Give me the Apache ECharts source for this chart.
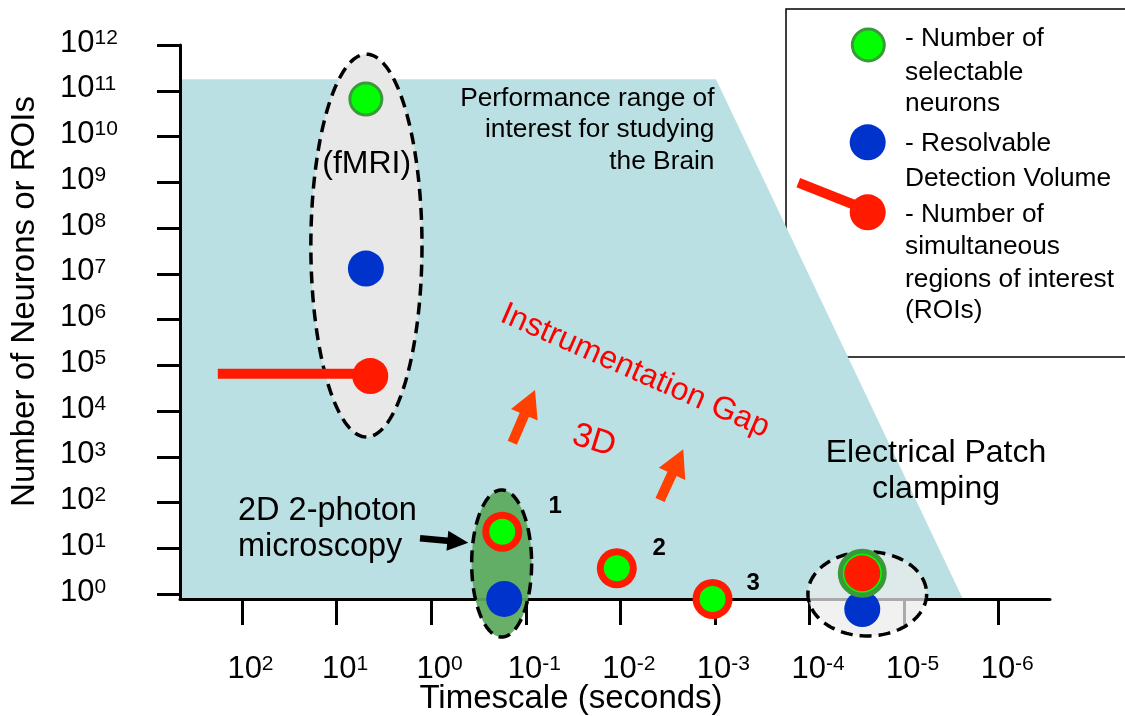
<!DOCTYPE html>
<html>
<head>
<meta charset="utf-8">
<script src="https://cdn.jsdelivr.net/npm/echarts@6/dist/echarts.min.js"></script>
<style>html,body{margin:0;padding:0;background:#fff}#c{width:1125px;height:716px}</style>
</head>
<body>
<div id="c"></div>
<script>
// ---- data (axis values) ----
const xTicks = [1e2, 1e1, 1e0, 1e-1, 1e-2, 1e-3, 1e-4, 1e-5, 1e-6];
const yTicks = [1e0, 1e1, 1e2, 1e3, 1e4, 1e5, 1e6, 1e7, 1e8, 1e9, 1e10, 1e11, 1e12];
const xRange = [2.87e-7, 452];
const yRange = [0.778, 1e12];

// [timescale (s), count]
const selectable = [[4.9, 6.6e10], [0.177, 23], [0.0109, 3.65], [1.06e-3, 0.78], [2.77e-5, 2.84]];
const resolvable = [[4.9, 1.3e7], [0.169, 0.78], [2.77e-5, 0.47]];
const rois = [[4.4, 5.8e4], [0.177, 23], [0.0109, 3.65], [1.06e-3, 0.78], [2.77e-5, 2.84]];
const roiTail = [[180, 6.5e4], [4.4, 6.5e4]];
const pointLabels = ['1', '2', '3'];
const pointLabelAt = [[0.049, 81], [0.00388, 10], [3.94e-4, 1.71]];

// performance range polygon (value space)
const brainRange = [[452, 1.78e11], [9.75e-4, 1.78e11], [2.39e-6, 0.778], [452, 0.778]];
// technique groups: [x left, x right, y bottom, y top]
const groups = [
  [18.7, 1.25, 2.7e3, 6.3e11],      // fMRI
  [0.373, 0.0867, 0.115, 188],      // 2D 2-photon
  [1.04e-4, 5.78e-6, 0.121, 8.4]    // patch clamping
];

// ---- styles ----
const FONT = 'Liberation Sans, Arial, Helvetica, sans-serif';
const RED = '#ff1a00', GREEN = '#00ff00', DKGREEN = '#3a9a3a', BLUE = '#0033cc';
const groupFill = ['#e8e8e8', 'rgba(92,170,92,0.93)', 'rgba(236,236,236,0.72)'];
const selKind = ['bordered', 'inner', 'inner', 'inner', 'halo'];
const roiSize = [36, 40, 40, 40, 36];

function exp10(v) { return Math.round(Math.log10(v)); }
function tickLabel(v) { return '{b|10}{s|' + exp10(v) + '}'; }

function arrowPts(t, h, sw, hw, hl) {
  const dx = h[0] - t[0], dy = h[1] - t[1], L = Math.hypot(dx, dy);
  const ux = dx / L, uy = dy / L, nx = -uy, ny = ux;
  const bx = h[0] - ux * hl, by = h[1] - uy * hl;
  return [
    [t[0] + nx * sw / 2, t[1] + ny * sw / 2], [bx + nx * sw / 2, by + ny * sw / 2],
    [bx + nx * hw / 2, by + ny * hw / 2], h, [bx - nx * hw / 2, by - ny * hw / 2],
    [bx - nx * sw / 2, by - ny * sw / 2], [t[0] - nx * sw / 2, t[1] - ny * sw / 2]
  ];
}

function txt(text, x, y, size, opts) {
  return Object.assign({
    type: 'text', x: x, y: y, z: 50, silent: true,
    style: Object.assign({
      text: text, fontSize: size, fontFamily: FONT, fill: '#000',
      align: 'left', verticalAlign: 'middle'
    }, (opts && opts.style) || {})
  }, (opts && opts.el) || {});
}

const chart = echarts.init(document.getElementById('c'), null, { renderer: 'canvas' });

const axisCommon = {
  type: 'log', logBase: 10, z: 3,
  splitLine: { show: false }, minorTick: { show: false },
  axisLine: { onZero: false, lineStyle: { color: '#000', width: 3 } },
  nameMoveOverlap: false
};
const labelRich = {
  b: { fontSize: 31, fontFamily: FONT, color: '#000', lineHeight: 31 },
  s: { fontSize: 21, fontFamily: FONT, color: '#000', lineHeight: 23, verticalAlign: 'top' }
};

const option = {
  animation: false,
  backgroundColor: '#fff',
  grid: { left: 180, right: 75, top: 45, bottom: 117, outerBoundsMode: 'none', containLabel: false },
  xAxis: Object.assign({}, axisCommon, {
    inverse: true, min: xRange[0], max: xRange[1],
    name: 'Timescale (seconds)', nameLocation: 'middle', nameGap: 83,
    nameTextStyle: { fontSize: 33, fontFamily: FONT, color: '#000', padding: [0, 88, 0, 0] },
    axisTick: { customValues: xTicks, length: 26, lineStyle: { color: '#000', width: 3 } },
    axisLabel: {
      customValues: xTicks, margin: 55, formatter: tickLabel, padding: [0, 0, 0, 17], rich: labelRich
    }
  }),
  yAxis: Object.assign({}, axisCommon, {
    min: yRange[0], max: yRange[1],
    name: 'Number of Neurons or ROIs', nameLocation: 'middle', nameGap: 139,
    nameTextStyle: { fontSize: 33, fontFamily: FONT, color: '#000', padding: [0, 0, 0, 41] },
    axisTick: { customValues: yTicks, length: 23, lineStyle: { color: '#000', width: 3 } },
    axisLabel: {
      customValues: yTicks, margin: 120, align: 'left', formatter: tickLabel, padding: [0, 0, 4, 0], rich: labelRich
    }
  }),
  series: [
    {
      type: 'custom', name: 'Performance range of interest', z: 1, silent: true, clip: false,
      data: [brainRange[0]],
      renderItem: function (p, api) {
        return { type: 'polygon', shape: { points: brainRange.map(v => api.coord(v)) }, style: { fill: '#bae0e3' } };
      }
    },
    {
      type: 'custom', name: 'Techniques', z: 4, silent: true, clip: false,
      data: groups.map(g => [g[0], g[3]]),
      renderItem: function (p, api) {
        const g = groups[p.dataIndex];
        const a = api.coord([g[0], g[3]]), b = api.coord([g[1], g[2]]);
        const cx = (a[0] + b[0]) / 2, cy = (a[1] + b[1]) / 2;
        const rx = Math.abs(b[0] - a[0]) / 2, ry = Math.abs(b[1] - a[1]) / 2;
        const pts = [];
        for (let i = 0; i < 160; i++) {
          const t = i / 160 * 2 * Math.PI;
          pts.push([cx + rx * Math.cos(t), cy + ry * Math.sin(t)]);
        }
        return {
          type: 'polygon', shape: { points: pts },
          style: { fill: groupFill[p.dataIndex], stroke: '#000', lineWidth: 3.5, lineDash: [12, 7] }
        };
      }
    },
    {
      type: 'line', name: 'ROI tail', z: 5, silent: true, clip: false, data: roiTail,
      symbol: 'none', lineStyle: { color: RED, width: 10, cap: 'butt' }
    },
    {
      type: 'scatter', name: 'Resolvable Detection Volume', z: 6, silent: true, clip: false,
      data: resolvable, symbol: 'circle', symbolSize: 36, itemStyle: { color: BLUE, opacity: 1 }
    },
    {
      type: 'scatter', name: 'Selectable (halo)', z: 7, silent: true, clip: false,
      data: selectable.filter((d, i) => selKind[i] === 'halo'), symbol: 'circle', symbolSize: 44,
      itemStyle: { color: GREEN, borderColor: DKGREEN, borderWidth: 5, opacity: 1 }
    },
    {
      type: 'scatter', name: 'Number of simultaneous regions of interest', z: 8, silent: true, clip: false,
      data: rois.map((d, i) => ({ value: d, symbolSize: roiSize[i] })), symbol: 'circle',
      itemStyle: { color: RED, opacity: 1 }
    },
    {
      type: 'scatter', name: 'Number of selectable neurons', z: 9, silent: true, clip: false, symbol: 'circle',
      data: selectable.map((d, i) => ({ d: d, k: selKind[i] })).filter(o => o.k !== 'halo').map(o => (
        o.k === 'bordered'
          ? { value: o.d, symbolSize: 32, itemStyle: { color: GREEN, borderColor: DKGREEN, borderWidth: 3 } }
          : { value: o.d, symbolSize: 26, itemStyle: { color: GREEN } }
      )),
      itemStyle: { opacity: 1 }
    },
    {
      type: 'custom', name: 'Point labels', z: 10, silent: true, clip: false,
      data: pointLabelAt,
      renderItem: function (p, api) {
        const c = api.coord(pointLabelAt[p.dataIndex]);
        return {
          type: 'text', x: c[0], y: c[1],
          style: { text: pointLabels[p.dataIndex], fontSize: 24, fontWeight: 'bold', fontFamily: FONT, fill: '#000', align: 'center', verticalAlign: 'middle' }
        };
      }
    }
  ],
  graphic: [
    // legend box
    { type: 'rect', z: 0, silent: true, shape: { x: 786, y: 9, width: 360, height: 348 }, style: { fill: 'none', stroke: '#000', lineWidth: 1.5 } },
    { type: 'circle', z: 50, silent: true, shape: { cx: 868.3, cy: 45, r: 16 }, style: { fill: GREEN, stroke: DKGREEN, lineWidth: 3 } },
    { type: 'circle', z: 50, silent: true, shape: { cx: 867.7, cy: 142.3, r: 18 }, style: { fill: BLUE } },
    { type: 'line', z: 50, silent: true, shape: { x1: 798.3, y1: 182.7, x2: 863.3, y2: 208.3 }, style: { stroke: RED, lineWidth: 10 } },
    { type: 'circle', z: 50, silent: true, shape: { cx: 867.7, cy: 212.3, r: 18 }, style: { fill: RED } },
    txt('- Number of', 905, 38.9, 26.3),
    txt('selectable', 905, 72.7, 26.3),
    txt('neurons', 905, 104.2, 26.3),
    txt('- Resolvable', 905, 143.9, 26.3),
    txt('Detection Volume', 905, 178.9, 26.3),
    txt('- Number of', 905, 214.9, 26.3),
    txt('simultaneous', 905, 247.2, 26.3),
    txt('regions of interest', 905, 279.5, 26.3),
    txt('(ROIs)', 905, 310.5, 26.3),
    // annotations
    txt('Performance range of\ninterest for studying\nthe Brain', 714.5, 83, 26.3, { style: { align: 'right', verticalAlign: 'top', lineHeight: 31.3 } }),
    txt('(fMRI)', 366.7, 163.7, 32, { style: { align: 'center' } }),
    txt('2D 2-photon\nmicroscopy', 238, 493, 32.5, { style: { verticalAlign: 'top', lineHeight: 36.3 } }),
    txt('Electrical Patch\nclamping', 936, 434.5, 32, { style: { align: 'center', verticalAlign: 'top', lineHeight: 36.7 } }),
    txt('Instrumentation Gap', 635, 371, 32, { style: { align: 'center', fill: '#ff0000' }, el: { rotation: -0.414 } }),
    txt('3D', 594, 441, 34, { style: { align: 'center', fill: '#ff0000' }, el: { rotation: -0.3 } }),
    { type: 'polygon', z: 50, silent: true, shape: { points: arrowPts([512.3, 442.7], [535, 390], 10, 29, 27) }, style: { fill: '#ff4000' } },
    { type: 'polygon', z: 50, silent: true, shape: { points: arrowPts([660, 500], [683.3, 449.3], 10, 29, 27) }, style: { fill: '#ff4000' } },
    { type: 'polygon', z: 50, silent: true, shape: { points: arrowPts([420, 538.3], [468.3, 542.7], 6.5, 20, 21) }, style: { fill: '#000' } }
  ]
};

chart.setOption(option);
</script>
</body>
</html>
